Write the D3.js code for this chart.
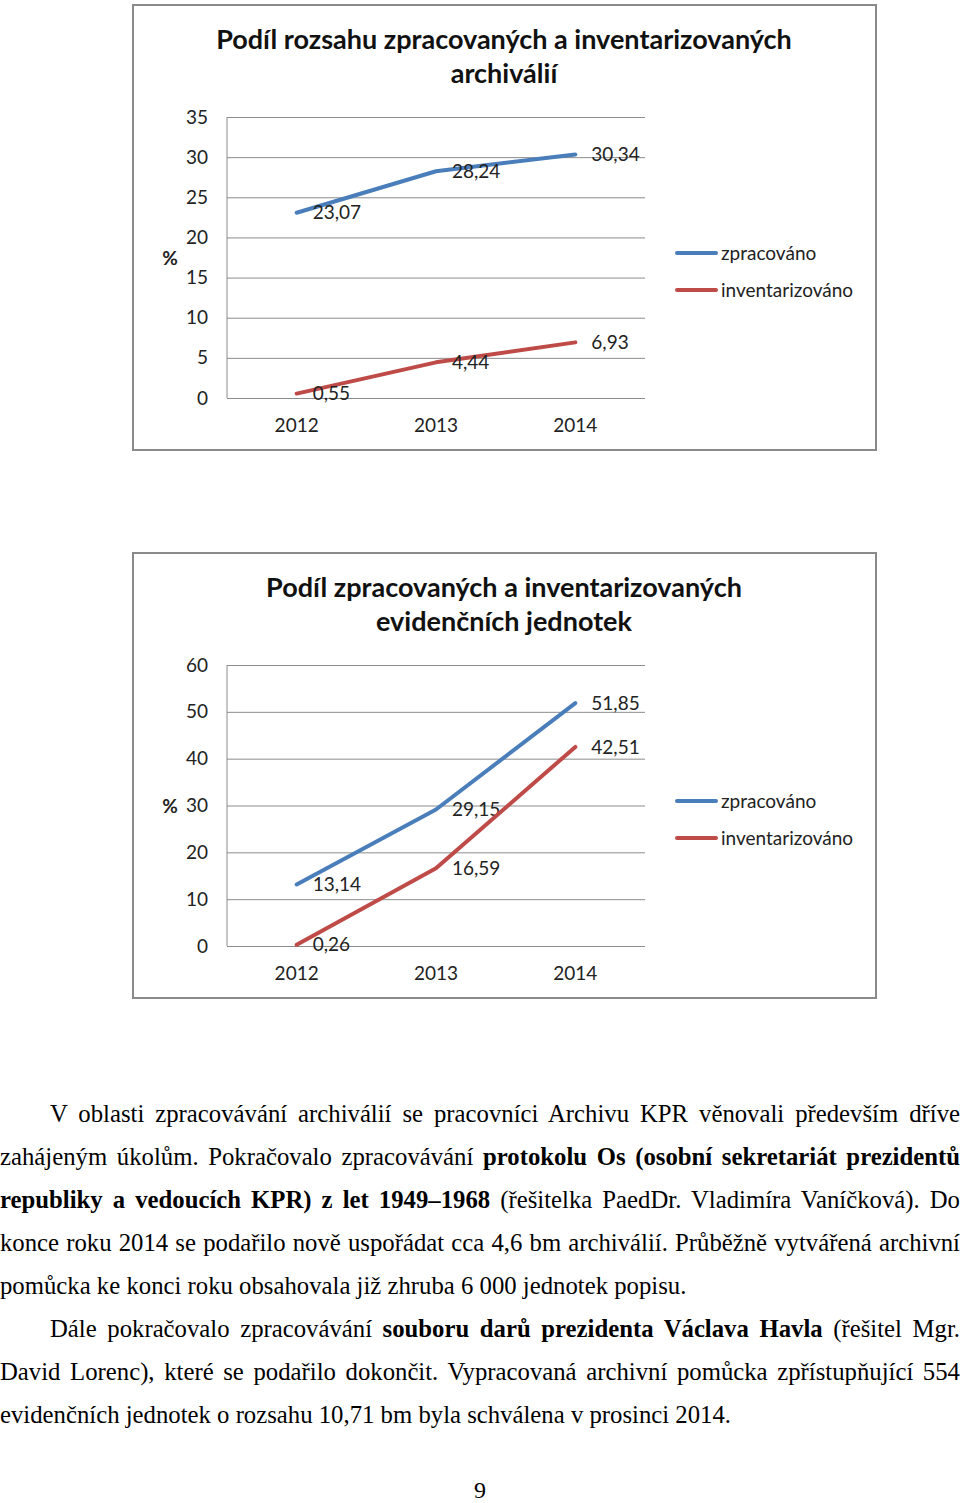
<!DOCTYPE html>
<html><head><meta charset="utf-8">
<script src="https://cdn.jsdelivr.net/npm/d3@7"></script>
<style>
body{margin:0;background:#fff;width:960px;height:1503px;overflow:hidden;position:relative}
svg{position:absolute;left:0;top:0}
.ln{position:absolute;font-family:"Liberation Serif","Times New Roman",serif;font-size:25px;line-height:30px;white-space:nowrap;color:#000;transform-origin:0 0}
.j{text-align:justify;text-align-last:justify;white-space:normal}
</style></head><body>
<svg id="c" width="960" height="1503"></svg>
<script>
const years=["2012","2013","2014"];
const seriesNames=["zpracováno","inventarizováno"];
const chart1Title=["Podíl rozsahu zpracovaných a inventarizovaných","archiválií"];
const chart1Processed=[23.07,28.24,30.34];
const chart1Inventoried=[0.55,4.44,6.93];
const chart1Ticks=[0,5,10,15,20,25,30,35];
const chart2Title=["Podíl zpracovaných a inventarizovaných","evidenčních jednotek"];
const chart2Processed=[13.14,29.15,51.85];
const chart2Inventoried=[0.26,16.59,42.51];
const chart2Ticks=[0,10,20,30,40,50,60];
const seriesColors=["#4a7ebb","#be4b48"];
const paraLines=[
 {indent:true,just:true,html:"V oblasti zpracovávání archiválií se pracovníci Archivu KPR věnovali především dříve"},
 {indent:false,just:true,html:"zahájeným úkolům. Pokračovalo zpracovávání <b>protokolu Os (osobní sekretariát prezidentů</b>"},
 {indent:false,just:true,html:"<b>republiky a vedoucích KPR) z let 1949–1968</b> (řešitelka PaedDr. Vladimíra Vaníčková). Do"},
 {indent:false,just:true,html:"konce roku 2014 se podařilo nově uspořádat cca 4,6 bm archiválií. Průběžně vytvářená archivní"},
 {indent:false,just:false,html:"pomůcka ke konci roku obsahovala již zhruba 6 000 jednotek popisu."},
 {indent:true,just:true,html:"Dále pokračovalo zpracovávání <b>souboru darů prezidenta Václava Havla</b> (řešitel Mgr."},
 {indent:false,just:true,html:"David Lorenc), které se podařilo dokončit. Vypracovaná archivní pomůcka zpřístupňující 554"},
 {indent:false,just:false,html:"evidenčních jednotek o rozsahu 10,71 bm byla schválena v prosinci 2014."}
];
const pageNumber="9";

const svg=d3.select("#c");
const fmt=v=>v.toFixed(2).replace(".",",");
const CF='Lato, "Noto Sans", sans-serif';
const FS=19;

function drawChart(top,title,ticks,seriesVals){
  const g=svg.append("g").attr("transform",`translate(0,${top})`);
  g.append("rect").attr("x",133).attr("y",1).attr("width",743).attr("height",445)
    .attr("fill","#fff").attr("stroke","#8a8a8a").attr("stroke-width",2);
  g.selectAll("text.title").data(title).enter().append("text").attr("class","title")
    .attr("x",504).attr("y",(d,i)=>45+i*34).attr("text-anchor","middle")
    .attr("font-family",CF).attr("font-weight","bold").attr("font-size",27).attr("fill","#111").text(d=>d);
  const x=d3.scaleBand().domain(years).range([227,645]);
  const cx=d=>x(d)+x.bandwidth()/2;
  const y=d3.scaleLinear().domain([0,d3.max(ticks)]).range([394,113]);
  const ya=g.append("g").attr("transform","translate(227,0)")
    .call(d3.axisLeft(y).tickValues(ticks).tickSize(-418).tickPadding(19).tickFormat(d=>d));
  ya.select(".domain").remove();
  ya.selectAll("line").attr("stroke","#8c8c8c").attr("stroke-width",1);
  ya.selectAll("text").attr("font-family",CF).attr("font-size",FS).attr("fill","#222");
  g.append("line").attr("x1",227).attr("x2",227).attr("y1",y(d3.max(ticks))).attr("y2",y(0))
    .attr("stroke","#8c8c8c");
  const xa=g.append("g").attr("transform","translate(0,394)")
    .call(d3.axisBottom(x).tickSize(0).tickPadding(21));
  xa.select(".domain").remove();
  xa.selectAll("text").attr("font-family",CF).attr("font-size",FS).attr("fill","#222");
  g.append("text").attr("x",170).attr("y",254).attr("dy","0.35em").attr("text-anchor","middle")
    .attr("font-family",CF).attr("font-weight","bold").attr("font-size",FS).attr("fill","#222").text("%");
  const line=d3.line().x((d,i)=>cx(years[i])).y(d=>y(d));
  seriesVals.forEach((vals,si)=>{
    g.append("path").datum(vals).attr("d",line).attr("fill","none")
      .attr("stroke",seriesColors[si]).attr("stroke-width",4).attr("stroke-linecap","round").attr("stroke-linejoin","round");
    g.selectAll(null).data(vals).enter().append("text")
      .attr("x",(d,i)=>cx(years[i])+16).attr("y",d=>y(d)).attr("dy","0.35em")
      .attr("font-family",CF).attr("font-size",FS).attr("fill","#222").text(d=>fmt(d));
    g.append("line").attr("x1",677).attr("x2",716).attr("y1",249+si*37).attr("y2",249+si*37)
      .attr("stroke",seriesColors[si]).attr("stroke-width",4).attr("stroke-linecap","round");
    g.append("text").attr("x",721).attr("y",249+si*37).attr("dy","0.35em")
      .attr("font-family",CF).attr("font-size",FS).attr("fill","#222").text(seriesNames[si]);
  });
}
drawChart(4,chart1Title,chart1Ticks,[chart1Processed,chart1Inventoried]);
drawChart(552,chart2Title,chart2Ticks,[chart2Processed,chart2Inventoried]);

// paragraph text
const baselines=[1122,1165,1208,1251,1294,1337,1380,1423];
const probe=d3.select("body").append("span").attr("class","ln").style("visibility","hidden").html(paraLines[7].html);
const natLast=probe.node().getBoundingClientRect().width;
probe.remove();
const s=731/natLast;
paraLines.forEach((L,i)=>{
  const left=L.indent?50:0;
  const W=960-left;
  const p=d3.select("body").append("div").attr("class","ln").style("visibility","hidden").html(L.html);
  const nat=p.node().getBoundingClientRect().width;
  let sc=s;
  if(L.just){ sc=Math.min(s,(W-1)/nat); p.attr("class","ln j").style("width",(W/sc)+"px"); }
  p.style("left",left+"px").style("top",(baselines[i]-23.4)+"px")
   .style("transform",`scaleX(${sc})`).style("visibility","visible");
});
svg.append("text").attr("x",480).attr("y",1498).attr("text-anchor","middle")
  .attr("font-family",'"Liberation Serif",serif').attr("font-size",24).text(pageNumber);
</script>
</body></html>
